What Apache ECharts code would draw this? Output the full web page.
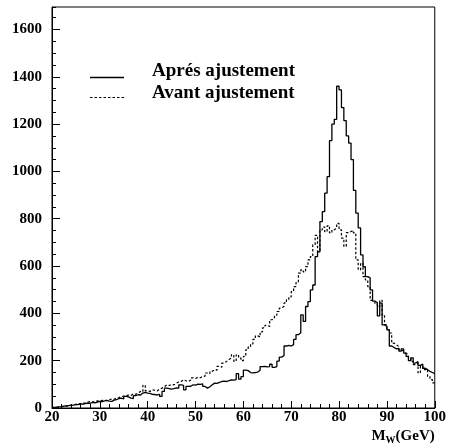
<!DOCTYPE html>
<html>
<head>
<meta charset="utf-8">
<script src="https://cdn.jsdelivr.net/npm/echarts@6/dist/echarts.min.js"></script>
<style>
html,body{margin:0;padding:0;background:#fff;}
#c{width:449px;height:448px;}
</style>
</head>
<body>
<div id="c"></div>
<script>
// Histogram binning (GeV)
const binStart = 20;
const binWidth = 0.5;

const seriesNames = ['Aprés ajustement', 'Avant ajustement'];

// "Aprés ajustement" (solid) : counts per 0.5 GeV bin, 20 -> 100 GeV
const apres = [
  3,4,5,6,8,9,10,11,12,14,
  14,17,16,19,21,20,24,22,25,28,
  27,30,32,29,28,33,35,40,42,38,
  49,47,42,40,52,56,55,63,66,63,
  62,58,57,55,58,49,70,84,82,80,
  82,85,84,98,96,77,91,92,98,97,
  101,100,102,91,84,90,98,105,104,108,
  112,114,112,116,119,118,120,145,122,133,
  160,158,150,148,150,152,160,175,176,174,
  175,185,172,175,198,215,222,262,265,262,
  268,290,310,318,394,366,429,450,499,520,
  640,660,788,830,908,978,1130,1200,1220,1360,
  1345,1270,1215,1150,1120,1050,920,824,761,647,
  597,555,550,499,452,445,389,443,351,345,
  330,262,256,250,252,240,250,232,218,200,
  212,190,196,180,186,168,162,155,150,145
];

// "Avant ajustement" (dashed) : counts per 0.5 GeV bin, 20 -> 100 GeV
const avant = [
  2,3,4,5,7,8,10,12,14,16,
  17,19,21,22,25,27,25,28,30,28,
  32,33,31,36,38,37,42,44,48,50,
  52,55,53,60,58,63,70,68,96,72,
  70,77,75,72,80,84,90,98,95,100,
  98,105,110,112,119,115,112,118,127,125,
  130,128,133,135,148,145,155,162,160,176,
  172,190,197,205,211,225,197,225,211,200,
  218,246,258,271,290,305,300,322,339,349,
  345,373,380,392,408,422,430,444,459,470,
  492,513,530,570,584,575,598,626,640,690,
  730,661,753,765,745,770,740,753,760,780,
  753,718,683,741,746,750,740,626,584,612,
  555,541,513,455,450,440,429,455,394,352,
  331,317,274,267,260,246,240,232,225,210,
  197,183,190,148,176,162,165,134,120,106
];

// Axis ranges / tick steps
const xMin = 20, xMax = 100, xStep = 10;
const yMin = 0, yMax = 1695, yStep = 200, yMinorStep = 50;

function toSteps(vals) {
  const pts = vals.map(function (v, i) { return [binStart + i * binWidth, v]; });
  pts.push([binStart + vals.length * binWidth, vals[vals.length - 1]]);
  return pts;
}

const font = 'Liberation Serif';
const black = '#000';
const plainNum = function (v) { return String(v); };

const chart = echarts.init(document.getElementById('c'), null, {renderer: 'canvas'});
chart.setOption({
  animation: false,
  backgroundColor: '#fff',
  grid: {
    left: 52, right: 9, top: 7, bottom: 40,
    show: true, borderColor: black, borderWidth: 1, backgroundColor: 'transparent'
  },
  graphic: [
    {type: 'line', shape: {x1: 90, y1: 77.5, x2: 124, y2: 77.5},
     style: {stroke: black, lineWidth: 1.3}, silent: true},
    {type: 'line', shape: {x1: 90, y1: 97.5, x2: 124, y2: 97.5},
     style: {stroke: black, lineWidth: 1.2, lineDash: [2.5, 2]}, silent: true},
    {type: 'text', x: 152, y: 71, silent: true,
     style: {text: seriesNames[0], fill: black, font: 'bold 19px "Liberation Serif"',
             align: 'left', verticalAlign: 'middle'}},
    {type: 'text', x: 152, y: 93.5, silent: true,
     style: {text: seriesNames[1], fill: black, font: 'bold 19px "Liberation Serif"',
             align: 'left', verticalAlign: 'middle'}}
  ],
  xAxis: {
    type: 'value', min: xMin, max: xMax, interval: xStep,
    axisLine: {show: true, lineStyle: {color: black, width: 1}},
    axisTick: {show: true, inside: true, length: 7, lineStyle: {color: black, width: 1}},
    minorTick: {show: true, splitNumber: 5, length: 4, lineStyle: {color: black, width: 1}},
    splitLine: {show: false},
    minorSplitLine: {show: false},
    axisLabel: {margin: 2, color: black, fontFamily: font, fontWeight: 'bold', fontSize: 15, formatter: plainNum},
    name: '{m|M}{s|W}{m|(GeV)}',
    nameLocation: 'end',
    nameGap: 0,
    nameTextStyle: {
      align: 'right', verticalAlign: 'top', padding: [20, 0, 0, 0],
      rich: {
        m: {fontFamily: font, fontWeight: 'bold', fontSize: 15, color: black},
        s: {fontFamily: font, fontWeight: 'bold', fontSize: 10, color: black, padding: [7, 0, 0, 0]}
      }
    }
  },
  yAxis: [
    {
      type: 'value', min: yMin, max: yMax, interval: yStep,
      axisLine: {show: true, lineStyle: {color: black, width: 1}},
      axisTick: {show: true, inside: true, length: 8, lineStyle: {color: black, width: 1}},
      splitLine: {show: false},
      axisLabel: {margin: 10, color: black, fontFamily: font, fontWeight: 'bold', fontSize: 15,
                  showMaxLabel: false, formatter: plainNum}
    },
    {
      type: 'value', min: yMin, max: yMax, interval: yMinorStep,
      position: 'left', offset: 0,
      axisLine: {show: false},
      axisTick: {show: true, inside: true, length: 4, lineStyle: {color: black, width: 1}},
      splitLine: {show: false},
      axisLabel: {show: false}
    }
  ],
  series: [
    {
      name: seriesNames[0], type: 'line', step: 'end',
      data: toSteps(apres),
      symbol: 'none', showSymbol: false,
      lineStyle: {color: black, width: 1.3},
      itemStyle: {color: black},
      z: 3
    },
    {
      name: seriesNames[1], type: 'line', step: 'end',
      data: toSteps(avant),
      symbol: 'none', showSymbol: false,
      lineStyle: {color: black, width: 1.2, type: [2.5, 2]},
      itemStyle: {color: black},
      z: 2
    }
  ]
});
</script>
</body>
</html>
